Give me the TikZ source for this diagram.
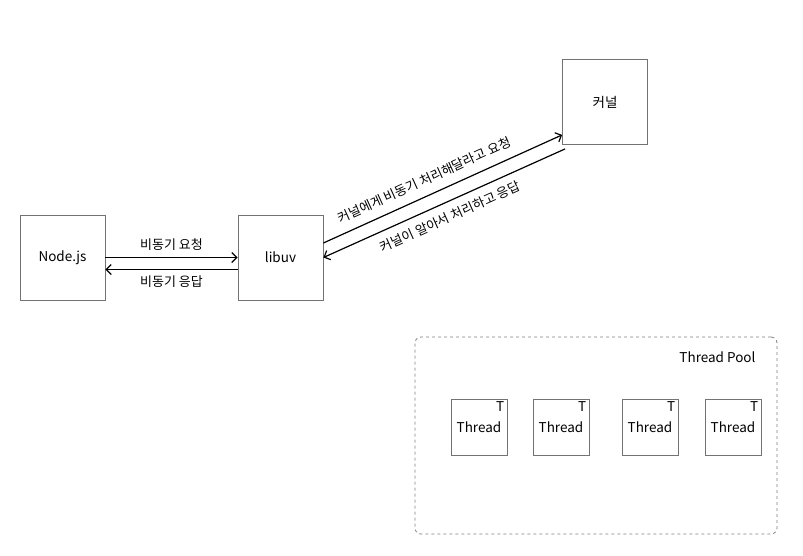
\documentclass[tikz,border=0pt]{standalone}
\usepackage{fontspec}
\setmainfont{Noto Sans CJK KR}
\usetikzlibrary{arrows.meta}
\begin{document}
\begin{tikzpicture}
			[x=1pt,y=-1pt,
			box/.style={draw=black!55,line width=0.8pt,minimum size=85pt,inner sep=0pt,font=\fontsize{13.5}{15}\selectfont},
			thread/.style={draw=black!55,line width=0.8pt,minimum size=56pt,inner sep=0pt,font=\fontsize{13.5}{15}\selectfont},
			tlabel/.style={anchor=north east,inner sep=3pt,font=\fontsize{13.5}{15}\selectfont},
			msg/.style={font=\fontsize{13}{15}\selectfont,inner sep=3pt},
			>={Straight Barb[length=5pt,width=10pt]}]
			\useasboundingbox (0,0) rectangle (803,555);
			\node[box,name=nodejs] at (62.5,257.5) {Node.js};
			\node[box,name=libuv] at (280.5,257.5) {libuv};
			\node[box,name=kernel] at (605,102) {커널};
			\node[draw=black!50,dashed,rounded corners=6pt,line width=0.8pt,minimum width=362pt,minimum height=197pt,name=pool] at (596,435.5) {};
			\node[anchor=east,font=\fontsize{13.5}{15}\selectfont,name=poollabel] at (759,357) {Thread Pool};
			\node[thread,name=t1,label={[tlabel]north east:T}] at (479,427) {Thread};
			\node[thread,name=t2,label={[tlabel]north east:T}] at (561,427) {Thread};
			\node[thread,name=t3,label={[tlabel]north east:T}] at (650,427) {Thread};
			\node[thread,name=t4,label={[tlabel]north east:T}] at (733,427) {Thread};
			\draw[->,line width=1.2pt](nodejs.east)--node[msg,above=3pt,name=req]{비동기 요청}(libuv.west);
			\draw[->,line width=1.2pt]([yshift=-12pt]libuv.west)--node[msg,below=3pt,name=res]{비동기 응답}([yshift=-12pt]nodejs.east);
			\draw[->,line width=1.2pt]([yshift=14.5pt]libuv.east)--node[msg,sloped,above=6pt,pos=0.45,name=kreq]{커널에게 비동기 처리해달라고 요청}([yshift=10pt]kernel.south west);
			\draw[->,line width=1.2pt]([xshift=3pt,yshift=-4pt]kernel.south west)--node[msg,sloped,below=5pt,pos=0.5,name=kres]{커널이 알아서 처리하고 응답}(libuv.east);
		\end{tikzpicture}
\end{document}
